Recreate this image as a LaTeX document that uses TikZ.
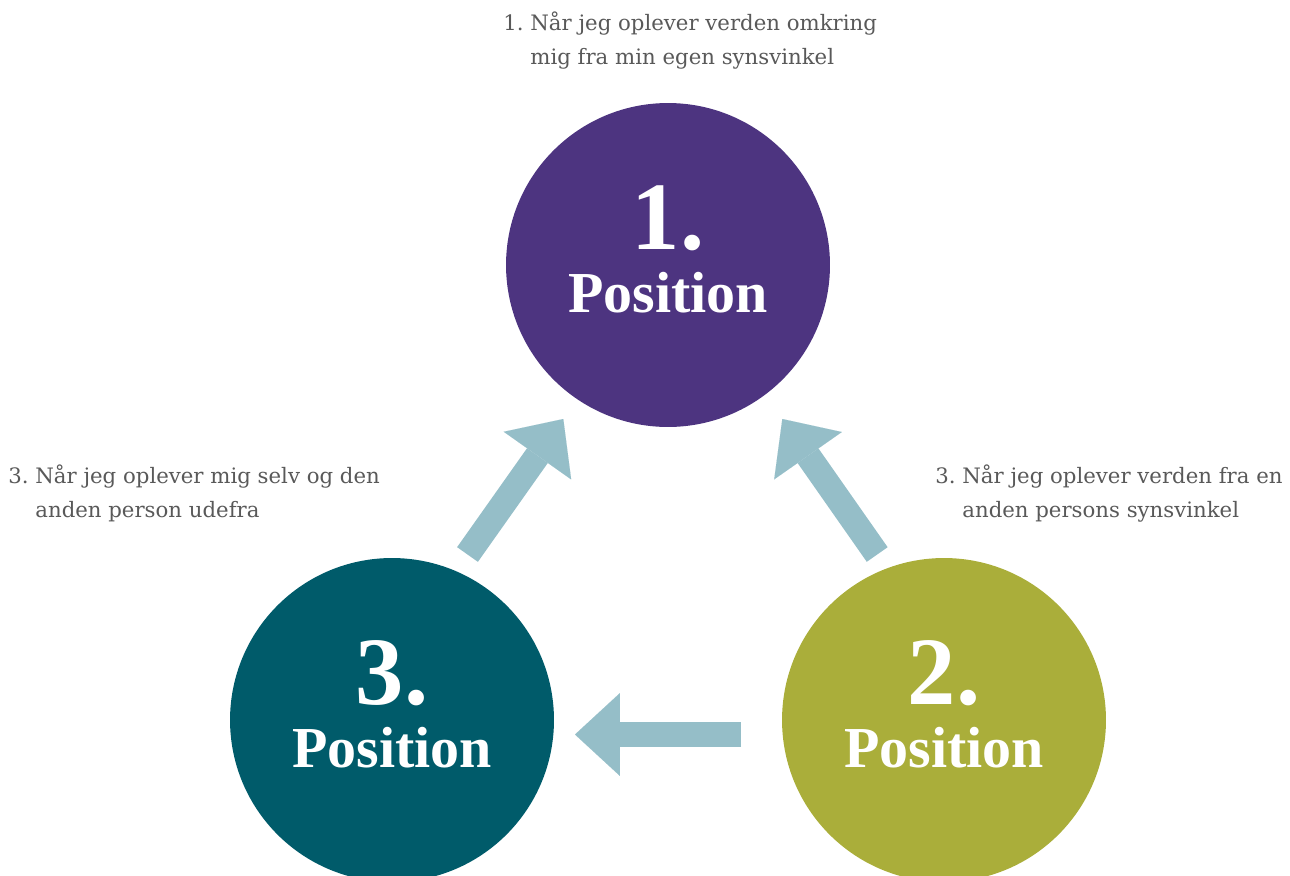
\documentclass[tikz,border=0pt]{standalone}
\usepackage{fontspec}
\usetikzlibrary{arrows.meta,calc}
\newfontfamily\notefont{DejaVu Serif}
\newfontfamily\posfont{Liberation Serif}
\definecolor{posviolet}{HTML}{4D3480}
\definecolor{posolive}{HTML}{AAAE3A}
\definecolor{posteal}{HTML}{005B6A}
\definecolor{arrowblue}{HTML}{95BEC8}
\definecolor{notegray}{HTML}{595959}
\begin{document}
\begin{tikzpicture}[x=0.02cm,y=-0.02cm,
    poscircle/.style={circle,inner sep=0pt,minimum size=6.48cm},
    posnum/.style={anchor=base,text=white,font=\posfont\bfseries\fontsize{55}{60}\selectfont},
    posword/.style={anchor=base,text=white,font=\posfont\bfseries\fontsize{33}{36}\selectfont},
    note/.style={anchor=north west,inner sep=0pt,align=left,text=notegray,font=\notefont\fontsize{12.1}{19.8}\selectfont},
    blockarrow/.style={draw=arrowblue,line width=14.5pt,-{Triangle[width=47pt,length=25.5pt,line width=0.01pt]}}]
        \clip (0,0) rectangle (1290,875);
        % the three positions
        \node[poscircle,fill=posviolet] (p1) at (668,265) {};
        \node[poscircle,fill=posolive] (p2) at (944,720) {};
        \node[poscircle,fill=posteal] (p3) at (392,720) {};
        \node[posnum] (n1) at ($(p1)+(0,-16)$) {1.};
        \node[posword] (w1) at ($(p1)+(0,47)$) {Position};
        \node[posnum] (n2) at ($(p2)+(0,-16)$) {2.};
        \node[posword] (w2) at ($(p2)+(0,47)$) {Position};
        \node[posnum] (n3) at ($(p3)+(0,-16)$) {3.};
        \node[posword] (w3) at ($(p3)+(0,47)$) {Position};
        % arrows
        \coordinate (a31s) at (467.5,554.5);
        \coordinate (a31e) at (563.3,419);
        \coordinate (a21s) at (877.2,554.5);
        \coordinate (a21e) at (782.3,419);
        \coordinate (a23s) at (741,734.5);
        \coordinate (a23e) at (575,734.5);
        \draw[blockarrow] (a31s) -- (a31e);
        \draw[blockarrow] (a21s) -- (a21e);
        \draw[blockarrow] (a23s) -- (a23e);
        % notes
        \node[note] (t1) at (503,11) {1.~Når jeg oplever verden omkring\\\phantom{1.~}mig fra min egen synsvinkel};
        \node[note] (t3) at (8,464) {3.~Når jeg oplever mig selv og den\\\phantom{3.~}anden person udefra};
        \node[note] (t2) at (935,464) {3.~Når jeg oplever verden fra en\\\phantom{3.~}anden persons synsvinkel};
\end{tikzpicture}
\end{document}
